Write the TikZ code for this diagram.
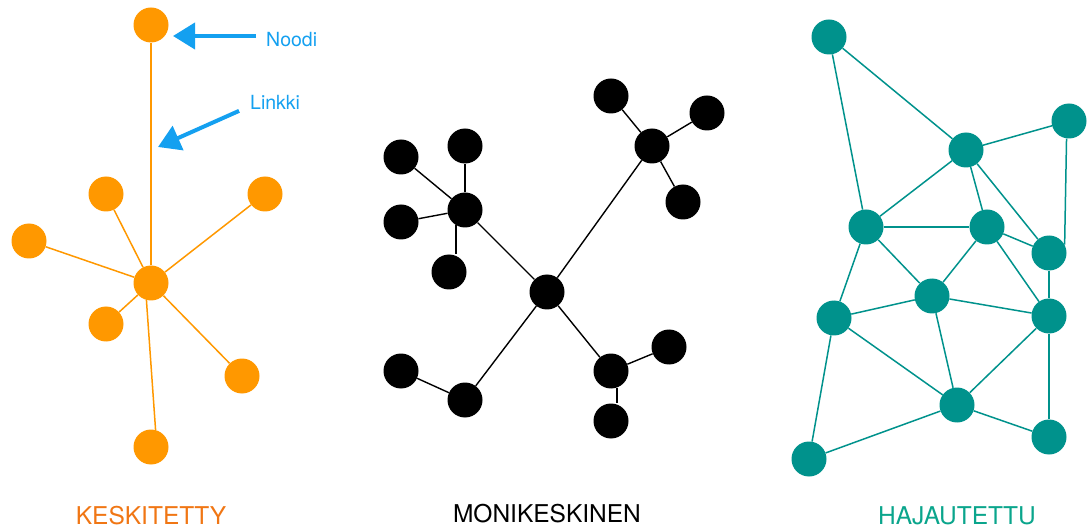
\documentclass[tikz,border=0pt]{standalone}
\usepackage{fontspec}
\setmainfont{TeX Gyre Heros}
\usetikzlibrary{arrows.meta}
\definecolor{orng}{RGB}{255,152,0}
\definecolor{orngtxt}{RGB}{240,118,20}
\definecolor{annblue}{RGB}{20,160,240}
\definecolor{teal1}{RGB}{0,146,140}
\definecolor{tealtxt}{RGB}{10,165,140}
\tikzset{
  dot/.style={circle,inner sep=0pt,minimum size=35pt},
  odot/.style={dot,fill=orng},
  kdot/.style={dot,fill=black},
  tdot/.style={dot,fill=teal1},
  oline/.style={draw=orng,line width=1.5pt},
  kline/.style={draw=black,line width=1.4pt},
  tline/.style={draw=teal1,line width=1.5pt},
  ann/.style={text=annblue,font=\fontsize{19.5}{22}\selectfont,inner sep=0pt},
  annarrow/.style={draw=annblue,line width=4pt,-{Triangle[length=22pt,width=26pt]}},
  title/.style={font=\fontsize{24.5}{28}\selectfont,inner sep=0pt}
}
\begin{document}
\begin{tikzpicture}[x=1pt,y=-1pt]
\useasboundingbox (0,0) rectangle (1087,529);
% ---------- centralised ----------
\node[odot] (oT) at (151,25) {};
\node[odot] (oH) at (151,283) {};
\node[odot] (oUL) at (106,194) {};
\node[odot] (oUR) at (265,194) {};
\node[odot] (oL) at (29,241) {};
\node[odot] (oLL) at (106,324) {};
\node[odot] (oLR) at (242,376) {};
\node[odot] (oB) at (151,447) {};
\foreach \n in {oT,oUL,oUR,oL,oLL,oLR} \draw[oline] (oH) -- (\n);
\draw[oline] (oH.255) -- (oB.75);
\node[title,text=orngtxt] (lblK) at (151,516) {KESKITETTY};
% annotations
\node[ann,anchor=west] (noodi) at (266,40) {Noodi};
\node[ann,anchor=west] (linkki) at (250,102) {Linkki};
\coordinate (noodipt) at (173,36);
\coordinate (linkpt) at (158,147);
\draw[annarrow,shorten <=10pt] ([yshift=4pt]noodi.west) -- (noodipt);
\draw[annarrow,shorten <=12pt] ([yshift=-4pt]linkki.west) -- (linkpt);
% ---------- decentralised ----------
\node[kdot] (kH) at (547,292) {};
\node[kdot] (kL) at (465,210) {};
\node[kdot] (kL1) at (401,157) {};
\node[kdot] (kL2) at (465,146) {};
\node[kdot] (kL3) at (401,222) {};
\node[kdot] (kL4) at (449,272) {};
\node[kdot] (kT) at (652,146) {};
\node[kdot] (kT1) at (611,96) {};
\node[kdot] (kT2) at (707,113) {};
\node[kdot] (kT3) at (683,202) {};
\node[kdot] (kR) at (611,371) {};
\node[kdot] (kR1) at (669,347) {};
\node[kdot] (kR2) at (611,421) {};
\node[kdot] (kB) at (465,400) {};
\node[kdot] (kB1) at (401,371) {};
\foreach \a/\b in {kH/kL,kH/kT,kH/kR,kH/kB,kL/kL1,kL/kL2,kL/kL3,kT/kT1,kT/kT2,kT/kT3,kR/kR1,kB/kB1}
  \draw[kline] (\a) -- (\b);
\draw[kline] (kL.240) -- (kL.240 |- kL4.north);
\draw[kline] (kR.290) -- (kR.290 |- kR2.north);
\node[title,text=black] (lblM) at (547,514) {MONIKESKINEN};
% ---------- distributed ----------
\node[tdot] (tA) at (829,37) {};
\node[tdot] (tB) at (966,150) {};
\node[tdot] (tC) at (1069,121) {};
\node[tdot] (tD) at (866,227) {};
\node[tdot] (tE) at (987,227) {};
\node[tdot] (tF) at (1049,253) {};
\node[tdot] (tG) at (834,318) {};
\node[tdot] (tH) at (932,296) {};
\node[tdot] (tI) at (1049,316) {};
\node[tdot] (tJ) at (957,405) {};
\node[tdot] (tK) at (1049,437) {};
\node[tdot] (tL) at (809,459) {};
\foreach \a/\b in {tA/tD,tA/tB,tB/tC,tB/tD,tB/tE,tB/tF,tD/tE,tD/tG,tD/tH,tE/tF,tE/tH,tE/tI,tF/tI,tG/tH,tG/tJ,tG/tL,tH/tI,tH/tJ,tI/tJ,tI/tK,tJ/tK,tJ/tL}
  \draw[tline] (\a) -- (\b);
\draw[tline] (tC.262) -- (tF.28);
\node[title,text=tealtxt] (lblH) at (957,516) {HAJAUTETTU};
\end{tikzpicture}
\end{document}
